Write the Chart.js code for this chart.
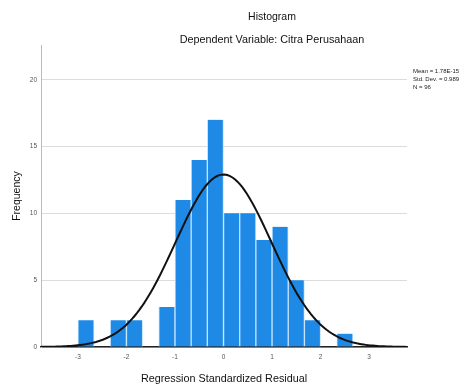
<!DOCTYPE html>
<html>
<head>
<meta charset="utf-8">
<script src="https://cdn.jsdelivr.net/npm/chart.js@4.4.1/dist/chart.umd.min.js"></script>
<style>
html,body{margin:0;padding:0;background:#fff;}
#wrap{position:relative;width:464px;height:390px;}
</style>
</head>
<body>
<div id="wrap"><canvas id="c" width="464" height="390"></canvas></div>
<script>
// ---- data ----
const chartTitle = "Histogram";
const chartSubtitle = "Dependent Variable: Citra Perusahaan";
const xAxisTitle = "Regression Standardized Residual";
const yAxisTitle = "Frequency";
const binCenters = [-2.833, -2.5, -2.167, -1.833, -1.5, -1.167, -0.833, -0.5, -0.167, 0.167, 0.5, 0.833, 1.167, 1.5, 1.833, 2.167, 2.5];
const frequencies = [2, 0, 2, 2, 0, 3, 11, 14, 17, 10, 10, 8, 9, 5, 2, 0, 1];
const xTickValues = [-3, -2, -1, 0, 1, 2, 3];
const yTickValues = [0, 5, 10, 15, 20];
const statsLines = ["Mean = 1.78E-15", "Std. Dev. = 0.989", "N = 96"];
const statMean = 0;
const statSD = 0.989;
const statN = 96;
const binWidth = 1 / 3;

// normal curve defined by the displayed statistics
const curveX = [];
for (let i = 0; i <= 160; i++) curveX.push(-3.76 + i * (3.78 + 3.76) / 160);
const curvePts = curveX.map(x => ({
  x: x,
  y: statN * binWidth * Math.exp(-0.5 * Math.pow((x - statMean) / statSD, 2)) / (statSD * Math.sqrt(2 * Math.PI))
}));

const FONT = "'Liberation Sans', Arial, sans-serif";

const textPlugin = {
  id: 'textPlugin',
  afterDraw(chart) {
    const ctx = chart.ctx;
    ctx.save();
    ctx.fillStyle = '#111';
    ctx.textAlign = 'center';
    ctx.textBaseline = 'middle';
    ctx.font = '10.5px ' + FONT;
    ctx.fillText(chartTitle, 272, 17);
    ctx.font = '10.8px ' + FONT;
    ctx.fillText(chartSubtitle, 272, 40);
    ctx.textAlign = 'left';
    ctx.font = '6px ' + FONT;
    ctx.fillStyle = '#222';
    statsLines.forEach((s, i) => ctx.fillText(s, 413, 71 + i * 8));
    ctx.restore();
  }
};

new Chart(document.getElementById('c'), {
  data: {
    datasets: [
      {
        type: 'line',
        data: curvePts,
        borderColor: '#111',
        borderWidth: 2,
        pointRadius: 0,
        fill: false,
        tension: 0,
        order: 0
      },
      {
        type: 'bar',
        data: binCenters.map((x, i) => ({ x: x, y: frequencies[i] })),
        backgroundColor: '#1e8ae6',
        borderColor: 'rgba(190,225,255,0.9)',
        borderWidth: { top: 0, left: 1, right: 1, bottom: 0 },
        barPercentage: 1,
        categoryPercentage: 1,
        order: 1
      }
    ]
  },
  options: {
    responsive: false,
    animation: false,
    layout: { padding: { left: 0, right: 57, top: 45, bottom: 0 } },
    plugins: { legend: { display: false }, tooltip: { enabled: false } },
    scales: {
      x: {
        type: 'linear',
        offset: false,
        min: -3.76,
        max: 3.78,
        afterBuildTicks: s => { s.ticks = xTickValues.map(v => ({ value: v })); },
        afterFit: s => { s.height = 43; },
        grid: { display: false, drawTicks: false, offset: false },
        border: { color: '#222', width: 1.5 },
        ticks: { font: { size: 6.5, family: FONT }, color: '#555', padding: 6, maxRotation: 0 },
        title: { display: true, text: xAxisTitle, font: { size: 10.8, family: FONT }, color: '#111', padding: { top: 0, bottom: 4 } }
      },
      y: {
        type: 'linear',
        min: 0,
        max: 22.6,
        afterBuildTicks: s => { s.ticks = yTickValues.map(v => ({ value: v })); },
        afterFit: s => { s.width = 41; },
        grid: { color: '#dcdcdc', lineWidth: 1, drawTicks: false },
        border: { color: '#bbb', width: 1 },
        ticks: { font: { size: 6.5, family: FONT }, color: '#555', padding: 4 },
        title: { display: true, text: yAxisTitle, font: { size: 10.5, family: FONT }, color: '#111', padding: { top: 11, bottom: 0 } }
      }
    }
  },
  plugins: [textPlugin]
});
</script>
</body>
</html>
